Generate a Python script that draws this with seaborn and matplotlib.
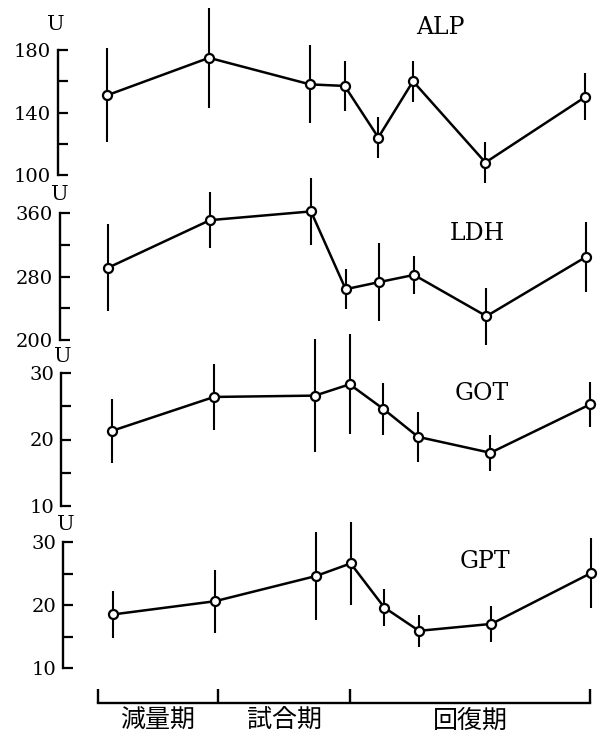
import numpy as np
import pandas as pd
import seaborn as sns
import matplotlib
matplotlib.use("Agg")
import matplotlib.pyplot as plt

sns.set_theme(style="white")
plt.rcParams["font.family"] = ["DejaVu Serif"]

# Sampling times (relative units along the study period)
times = [0.0, 1.0, 1.99, 2.33, 2.66, 3.0, 3.71, 4.69]

# Means and half-widths of the error bars (U)
alp_mean = [151, 175, 158, 157, 124, 160, 108, 150]
alp_err = [30, 32, 25, 16, 13, 13, 13, 15]
ldh_mean = [291, 351, 362, 264, 273, 282, 230, 305]
ldh_err = [55, 35, 42, 25, 49, 24, 36, 44]
got_mean = [21.3, 26.4, 26.6, 28.3, 24.6, 20.4, 18.0, 25.3]
got_err = [4.8, 5.0, 8.5, 7.5, 3.9, 3.8, 2.7, 3.4]
gpt_mean = [18.5, 20.6, 24.6, 26.6, 19.6, 15.9, 17.0, 25.1]
gpt_err = [3.7, 5.0, 7.0, 6.6, 3.0, 2.5, 2.8, 5.5]

# Phase boundaries and names
phase_edges = [-0.15, 1.03, 2.33, 4.69]
phase_names = ["減量期", "試合期", "回復期"]

W, H = 600, 741
fig = plt.figure(figsize=(W / 100, H / 100), dpi=100)


def fx(px):
    return px / W


def fy(py):
    return 1 - py / H


UNIT = 102.0  # pixels per time unit

panels = [
    # name, mean, err, ylim, major ticks, minor ticks, top px, bottom px, axis px, first-point px, U pos, title pos
    ("ALP", alp_mean, alp_err, (100, 180), [100, 140, 180], [120, 160], 50, 175, 58, 107, (56, 25), (440, 27)),
    ("LDH", ldh_mean, ldh_err, (200, 360), [200, 280, 360], [240, 320], 213, 340, 60, 108, (60, 195), (477, 233)),
    ("GOT", got_mean, got_err, (10, 30), [10, 20, 30], [15, 25], 373, 506, 61, 112, (63, 357), (482, 394)),
    ("GPT", gpt_mean, gpt_err, (10, 30), [10, 20, 30], [15, 25], 542, 668, 63, 113, (66, 525), (485, 562)),
]

for name, mean, err, ylim, major, minor, top, bot, axis_px, p1_px, upos, tpos in panels:
    right_px = 598
    ax = fig.add_axes([fx(axis_px), fy(bot), fx(right_px - axis_px), (bot - top) / H])
    ax.set_facecolor("none")
    x0 = (axis_px - p1_px) / UNIT
    x1 = (right_px - p1_px) / UNIT
    ax.set_xlim(x0, x1)
    ax.set_ylim(*ylim)

    m = np.array(mean)
    e = np.array(err)
    ax.vlines(times, m - e, m + e, color="black", lw=1.5, clip_on=False, zorder=2)
    df = pd.DataFrame({"t": times, "v": mean})
    sns.lineplot(data=df, x="t", y="v", ax=ax, color="black", lw=1.8,
                 marker="o", markersize=6.5, markerfacecolor="white",
                 markeredgecolor="black", markeredgewidth=1.6,
                 clip_on=False, zorder=3)
    for ln in ax.lines:
        ln.set_clip_on(False)

    for s in ["top", "right", "bottom"]:
        ax.spines[s].set_visible(False)
    ax.spines["left"].set_linewidth(1.7)
    ax.spines["left"].set_color("black")
    ax.set_xticks([])
    ax.set_yticks(major)
    ax.set_yticks(minor, minor=True)
    ax.set_yticklabels([str(v) for v in major])
    ax.tick_params(axis="y", which="both", direction="in", length=7, width=1.6,
                   color="black", left=True, pad=5, labelsize=14, labelcolor="black")
    ax.set_xlabel("")
    ax.set_ylabel("")

    fig.text(fx(upos[0]), fy(upos[1]), "U", ha="center", va="center", fontsize=15, color="black")
    fig.text(fx(tpos[0]), fy(tpos[1]), name, ha="center", va="center", fontsize=17, color="black")

# Phase bar along the bottom
axb = fig.add_axes([fx(98), fy(703), fx(590 - 98), 0.02])
axb.set_facecolor("none")
axb.set_xlim(phase_edges[0], phase_edges[-1])
axb.set_ylim(0, 1)
for s in ["top", "right", "left"]:
    axb.spines[s].set_visible(False)
axb.spines["bottom"].set_linewidth(1.7)
axb.spines["bottom"].set_color("black")
axb.set_yticks([])
axb.set_xticks(phase_edges)
axb.set_xticklabels([])
axb.tick_params(axis="x", direction="in", length=10, width=1.7, color="black", bottom=True)
for i, nm in enumerate(phase_names):
    c = (phase_edges[i] + phase_edges[i + 1]) / 2
    axb.text(c, -1.2, nm, ha="center", va="center", fontsize=18,
             family=["Noto Sans CJK JP", "DejaVu Sans"], color="black",
             transform=axb.get_xaxis_transform())

fig.savefig("out.png", dpi=100, facecolor="white")
